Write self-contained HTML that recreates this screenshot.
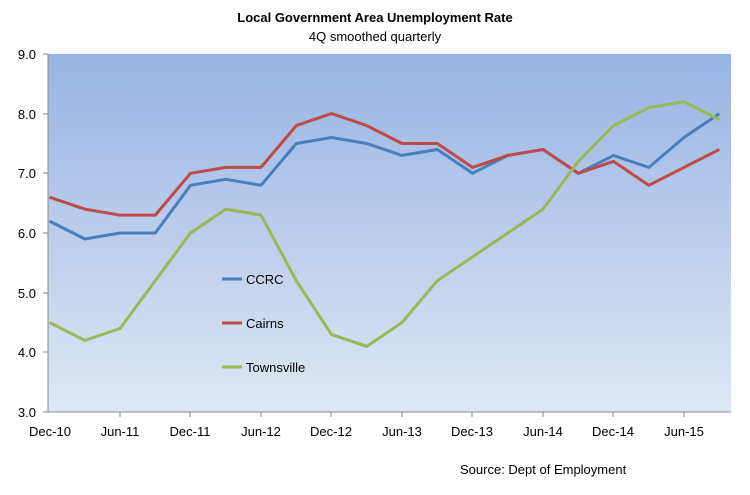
<!DOCTYPE html>
<html><head><meta charset="utf-8"><style>
body{margin:0;background:#fff;font-family:"Liberation Sans",sans-serif}
</style></head><body>
<svg width="750" height="490" xmlns="http://www.w3.org/2000/svg" font-family="Liberation Sans, sans-serif">
<defs><linearGradient id="g" x1="0" y1="0" x2="0" y2="1">
<stop offset="0" stop-color="#97b4e3"/><stop offset="1" stop-color="#dfe7f5"/></linearGradient></defs>
<text x="375" y="22" text-anchor="middle" font-size="13" font-weight="bold" fill="#000">Local Government Area Unemployment Rate</text>
<text x="375" y="41" text-anchor="middle" font-size="13" fill="#000">4Q smoothed quarterly</text>
<rect x="48" y="54" width="683" height="358" fill="url(#g)"/>
<line x1="48" y1="54" x2="48" y2="412" stroke="#888"/>
<line x1="48" y1="412" x2="731" y2="412" stroke="#888"/>
<g font-size="13" fill="#000" text-anchor="end">
<text x="36" y="59">9.0</text><text x="36" y="119">8.0</text><text x="36" y="178">7.0</text><text x="36" y="238">6.0</text><text x="36" y="298">5.0</text><text x="36" y="357">4.0</text><text x="36" y="417">3.0</text>
</g>
<g stroke="#888"><line x1="43" y1="54" x2="48" y2="54"/><line x1="43" y1="114" x2="48" y2="114"/><line x1="43" y1="173" x2="48" y2="173"/><line x1="43" y1="233" x2="48" y2="233"/><line x1="43" y1="293" x2="48" y2="293"/><line x1="43" y1="352" x2="48" y2="352"/><line x1="43" y1="412" x2="48" y2="412"/>
<line x1="120" y1="412" x2="120" y2="417"/><line x1="190" y1="412" x2="190" y2="417"/><line x1="261" y1="412" x2="261" y2="417"/><line x1="331" y1="412" x2="331" y2="417"/><line x1="402" y1="412" x2="402" y2="417"/><line x1="472" y1="412" x2="472" y2="417"/><line x1="543" y1="412" x2="543" y2="417"/><line x1="613" y1="412" x2="613" y2="417"/><line x1="684" y1="412" x2="684" y2="417"/></g>
<g font-size="13" fill="#000" text-anchor="middle">
<text x="50" y="436">Dec-10</text><text x="120" y="436">Jun-11</text><text x="190" y="436">Dec-11</text><text x="261" y="436">Jun-12</text><text x="331" y="436">Dec-12</text><text x="402" y="436">Jun-13</text><text x="472" y="436">Dec-13</text><text x="543" y="436">Jun-14</text><text x="613" y="436">Dec-14</text><text x="684" y="436">Jun-15</text>
</g>
<text x="460" y="474" font-size="13" fill="#000">Source: Dept of Employment</text>
<g fill="none" stroke-width="3" stroke-linejoin="round">
<polyline id="c" stroke="#4a7ebb" points=""/>
<polyline id="k" stroke="#be4b48" points=""/>
<polyline id="t" stroke="#98b954" points=""/>
</g>
<g stroke-width="3"><line x1="222" y1="279" x2="242" y2="279" stroke="#4a7ebb"/><line x1="222" y1="323" x2="242" y2="323" stroke="#be4b48"/><line x1="222" y1="367" x2="242" y2="367" stroke="#98b954"/></g>
<g font-size="13" fill="#000"><text x="246" y="284">CCRC</text><text x="246" y="328">Cairns</text><text x="246" y="372">Townsville</text></g>
</svg>
<script>
var d={c:[6.2,5.9,6.0,6.0,6.8,6.9,6.8,7.5,7.6,7.5,7.3,7.4,7.0,7.3,7.4,7.0,7.3,7.1,7.6,8.0],
k:[6.6,6.4,6.3,6.3,7.0,7.1,7.1,7.8,8.0,7.8,7.5,7.5,7.1,7.3,7.4,7.0,7.2,6.8,7.1,7.4],
t:[4.5,4.2,4.4,5.2,6.0,6.4,6.3,5.2,4.3,4.1,4.5,5.2,5.6,6.0,6.4,7.2,7.8,8.1,8.2,7.9]};
for(var k in d){document.getElementById(k).setAttribute('points',d[k].map(function(v,i){return (49.5+i*35.25).toFixed(1)+','+(412-(v-3)*59.67).toFixed(1)}).join(' '));}
</script>
</body></html>
